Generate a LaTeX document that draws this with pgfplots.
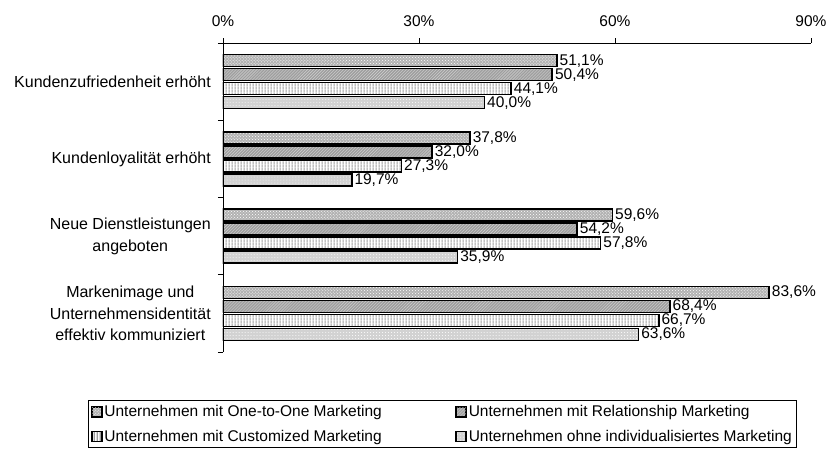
\documentclass[border=0pt]{standalone}
\usepackage{fontspec}
\setmainfont{Liberation Sans}
\usepackage{pgfplots}
\pgfplotsset{compat=1.18}
\usetikzlibrary{patterns}
\pgfdeclarepatternformonly{vstripes}{\pgfpointorigin}{\pgfpoint{3bp}{3bp}}{\pgfpoint{3bp}{3bp}}{%
  \pgfsetlinewidth{1.4bp}\pgfpathmoveto{\pgfpoint{1.5bp}{-0.5bp}}\pgfpathlineto{\pgfpoint{1.5bp}{3.5bp}}\pgfusepath{stroke}}
\begin{document}
\begin{tikzpicture}
\useasboundingbox (0,0) rectangle (828bp,-452bp);
\begin{axis}[
 at={(223bp,-43bp)}, anchor=north west,
 scale only axis, width=588bp, height=309bp,
 xbar, bar width=12bp,
 xmin=0, xmax=90, ymin=-0.5, ymax=3.5,
 axis x line=top, axis y line=left,
 axis line style={-, line width=0.8bp},
 tick align=outside,
 major tick length=5bp,
 tick style={black, line width=0.8bp},
 /pgf/number format/assume math mode=true,
 xtick={0,30,60,90},
 xticklabel={\pgfmathprintnumber{\tick}\%},
 xticklabel style={font=\fontsize{15.5bp}{18bp}\selectfont, inner sep=0pt, anchor=south, yshift=11bp},
 ytick={-0.5,0.5,1.5,2.5,3.5}, yticklabels={},
 extra y ticks={0,1,2,3},
 extra y tick labels={{Markenimage und\\Unternehmensidentität\\effektiv kommuniziert},{Neue Dienstleistungen\\angeboten},{Kundenloyalität erhöht},{Kundenzufriedenheit erhöht}},
 extra y tick style={major tick length=0pt, yticklabel style={align=center, font=\fontsize{16bp}{21.7bp}\selectfont, inner sep=0pt, xshift=-12bp}},
 point meta=x,
 nodes near coords={\pgfmathprintnumber[fixed, fixed zerofill, precision=1, use comma]{\pgfplotspointmeta}\%},
 every node near coord/.append style={font=\fontsize{15.5bp}{18bp}\selectfont, black, inner sep=2bp},
 legend columns=2,
 legend cell align=left,
 legend image code/.code={\draw[#1, line width=1bp] (0bp,-5bp) rectangle (10bp,5bp);},
 legend style={at={(axis description cs:-0.2296,-0.1553)}, anchor=north west, draw=black, line width=0.8bp,
   font=\fontsize{15.5bp}{18bp}\selectfont, row sep=8bp, inner sep=3bp,
   /tikz/every even column/.append style={column sep=72bp}},
]
\addplot[draw=black, line width=1.6bp, preaction={fill=gray!60}, pattern=crosshatch dots, pattern color=white, bar shift=21bp]
 coordinates {(51.1,3) (37.8,2) (59.6,1) (83.6,0)};
\addlegendentry{Unternehmen mit One-to-One Marketing}
\addplot[draw=black, line width=1.6bp, preaction={fill=gray!75}, pattern=north east lines, pattern color=gray!35, bar shift=7bp]
 coordinates {(50.4,3) (32.0,2) (54.2,1) (68.4,0)};
\addlegendentry{Unternehmen mit Relationship Marketing}
\addplot[draw=black, line width=1.6bp, preaction={fill=white}, pattern=vstripes, pattern color=gray!75, bar shift=-7bp]
 coordinates {(44.1,3) (27.3,2) (57.8,1) (66.7,0)};
\addlegendentry{Unternehmen mit Customized Marketing}
\addplot[draw=black, line width=1.6bp, preaction={fill=gray!35}, pattern=dots, pattern color=white, bar shift=-21bp]
 coordinates {(40.0,3) (19.7,2) (35.9,1) (63.6,0)};
\addlegendentry{Unternehmen ohne individualisiertes Marketing}
\end{axis}
\end{tikzpicture}
\end{document}
